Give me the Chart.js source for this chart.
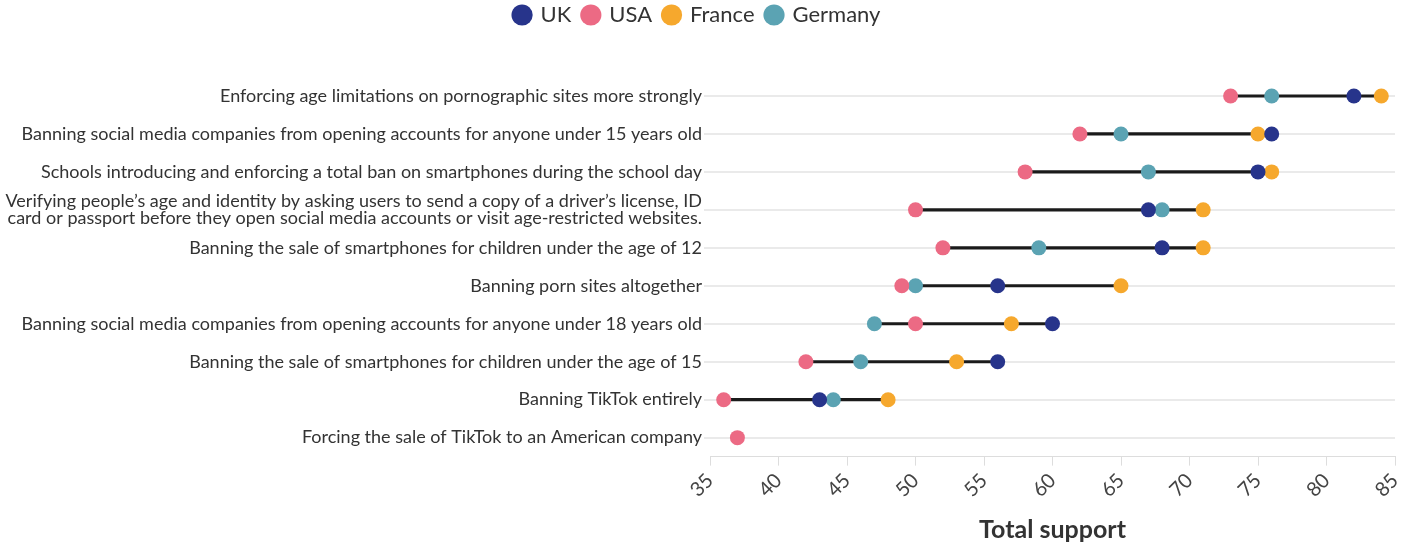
<!DOCTYPE html>
<html>
<head>
<meta charset="utf-8">
<script src="https://cdn.jsdelivr.net/npm/chart.js@4"></script>
<style>
  body { margin: 0; background: #fff; }
  #wrap { width: 1403px; height: 547px; }
</style>
</head>
<body>
<div id="wrap"><canvas id="chart"></canvas></div>
<script>
const categories = [
  'Enforcing age limitations on pornographic sites more strongly',
  'Banning social media companies from opening accounts for anyone under 15 years old',
  'Schools introducing and enforcing a total ban on smartphones during the school day',
  ['Verifying people\u2019s age and identity by asking users to send a copy of a driver\u2019s license, ID',
   'card or passport before they open social media accounts or visit age-restricted websites.'],
  'Banning the sale of smartphones for children under the age of 12',
  'Banning porn sites altogether',
  'Banning social media companies from opening accounts for anyone under 18 years old',
  'Banning the sale of smartphones for children under the age of 15',
  'Banning TikTok entirely',
  'Forcing the sale of TikTok to an American company'
];

const uk      = [82, 76, 75, 67, 68, 56, 60, 56, 43, null];
const usa     = [73, 62, 58, 50, 52, 49, 50, 42, 36, 37];
const france  = [84, 75, 76, 71, 71, 65, 57, 53, 48, null];
const germany = [76, 65, 67, 68, 59, 50, 47, 46, 44, null];

const xTicks = [35, 40, 45, 50, 55, 60, 65, 70, 75, 80, 85];

const colors = {
  uk: '#27348b',
  usa: '#ec6a84',
  france: '#f6a82d',
  germany: '#5ba3b3'
};

// range line from lowest to highest country per row
const ranges = categories.map((c, i) => {
  const vals = [uk[i], usa[i], france[i], germany[i]].filter(v => v !== null);
  return [Math.min(...vals), Math.max(...vals)];
});

function dots(label, data, color) {
  return {
    type: 'line',
    label: label,
    data: data,
    showLine: false,
    pointStyle: 'circle',
    pointRadius: 7.5,
    pointHoverRadius: 7.5,
    pointBorderWidth: 0,
    pointBackgroundColor: color,
    backgroundColor: color,
    borderColor: color,
    order: 0
  };
}

const legendMargin = {
  id: 'legendMargin',
  beforeInit(chart) {
    const fit = chart.legend.fit;
    chart.legend.fit = function () {
      fit.bind(chart.legend)();
      this.height += 41;
    };
  }
};

Chart.defaults.font.family = 'Lato, "Noto Sans", sans-serif';
Chart.defaults.color = '#333';

new Chart(document.getElementById('chart'), {
  type: 'bar',
  data: {
    labels: categories,
    datasets: [
      {
        label: 'range',
        data: ranges,
        backgroundColor: '#1b1b1b',
        barThickness: 2.5,
        order: 1
      },
      dots('UK', uk, colors.uk),
      dots('USA', usa, colors.usa),
      dots('France', france, colors.france),
      dots('Germany', germany, colors.germany)
    ]
  },
  plugins: [legendMargin],
  options: {
    indexAxis: 'y',
    responsive: true,
    maintainAspectRatio: false,
    animation: false,
    layout: { padding: { top: -8, right: 8, bottom: 2, left: 0 } },
    plugins: {
      legend: {
        position: 'top',
        labels: {
          usePointStyle: true,
          pointStyle: 'circle',
          boxWidth: 15,
          boxHeight: 15,
          padding: 12,
          color: '#333',
          font: { size: 22 },
          filter: item => item.text !== 'range'
        }
      },
      tooltip: { enabled: false }
    },
    scales: {
      x: {
        min: 35,
        max: 85,
        afterBuildTicks: axis => { axis.ticks = xTicks.map(v => ({ value: v })); },
        afterFit: scale => { scale.paddingRight = 0; },
        grid: { drawOnChartArea: false, drawTicks: true, tickLength: 9, color: '#dddddd' },
        border: { display: true, color: '#dddddd' },
        ticks: {
          autoSkip: false,
          minRotation: 45,
          maxRotation: 45,
          color: '#444',
          font: { size: 20 }
        },
        title: {
          display: true,
          text: 'Total support',
          color: '#333',
          font: { size: 25, weight: 'bold' },
          padding: { top: 10, bottom: 0 }
        }
      },
      y: {
        afterFit: scale => { scale.width = 710; },
        grid: { offset: false, color: '#eaeaea', lineWidth: 2, tickLength: 6 },
        border: { display: false },
        ticks: {
          autoSkip: false,
          color: '#333',
          font: { size: 18, lineHeight: 0.95 },
          padding: 2
        }
      }
    }
  }
});
</script>
</body>
</html>
